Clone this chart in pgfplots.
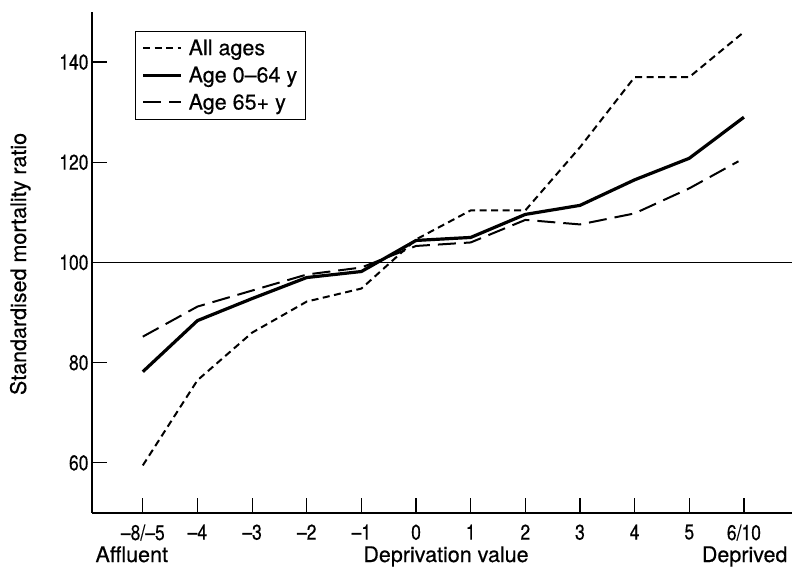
\documentclass[border=0pt]{standalone}
\usepackage{pgfplots}
\pgfplotsset{compat=1.18}
\usepackage{fontspec}
\setmainfont{TeX Gyre Heros}[FakeBold=0.4]
\newcommand{\tl}[1]{\scalebox{1}[1.22]{#1}}
\begin{document}
\begin{tikzpicture}
\useasboundingbox (0,0) rectangle (797pt,567pt);
\begin{axis}[
  at={(92pt,54pt)}, anchor=south west,
  scale only axis, width=700pt, height=501pt,
  xmin=-0.93, xmax=11.88, ymin=50, ymax=150,
  axis lines=left, axis line style={-, line width=1.3pt},
  tick align=inside, major tick length=15pt,
  tick style={line width=1.2pt, black},
  xtick={0,1,2,3,4,5,6,7,8,9,10,11},
  xticklabels={\tl{–8/–5},\tl{–4},\tl{–3},\tl{–2},\tl{–1},\tl{0},\tl{1},\tl{2},\tl{3},\tl{4},\tl{5},\tl{6/10}},
  ytick={60,80,100,120,140},
  yticklabels={\tl{60},\tl{80},\tl{100},\tl{120},\tl{140}},
  ticklabel style={font=\fontsize{17.5}{20}\selectfont},
  xticklabel style={yshift=-8pt},
  /pgf/number format/assume math mode=true,
  legend style={at={(0.0614,0.962)}, anchor=north west, draw=black, line width=1pt,
    font=\fontsize{21.5}{26}\selectfont, inner xsep=6pt, inner ysep=6pt, row sep=6pt},
  legend cell align=left,
  legend image code/.code={\draw[#1] (0pt,0pt) -- (38pt,0pt); \path (42pt,0pt);},
]
\addplot[line width=1.3pt, black, forget plot] coordinates {(-0.93,100) (11.88,100)};
\addplot[black, line width=2pt, dash pattern=on 7pt off 4.5pt, line join=round] coordinates {
(0,59.5) (1,76.5) (2,86) (3,92.2) (4,94.8) (5,104.6) (6,110.4) (7,110.4) (8,123) (9,137) (10,137) (11,146)};
\addlegendentry{All ages}
\addplot[black, line width=3.2pt, line join=round] coordinates {
(0,78.2) (1,88.4) (2,92.8) (3,97.0) (4,98.2) (5,104.4) (6,105) (7,109.6) (8,111.4) (9,116.5) (10,120.8) (11,129)};
\addlegendentry{Age 0–64 y}
\addplot[black, line width=2pt, dash pattern=on 18pt off 8pt, line join=round] coordinates {
(0,85.2) (1,91.2) (2,94.4) (3,97.6) (4,99) (5,103.3) (6,104) (7,108.5) (8,107.6) (9,109.8) (10,114.8) (10.9,120.2)};
\addlegendentry{Age 65+ y}
\end{axis}
\node[anchor=base, rotate=90, font=\fontsize{21.5}{26}\selectfont] at (26pt,303pt) {Standardised mortality ratio};
\node[anchor=base west, font=\fontsize{21.5}{26}\selectfont] at (92pt,5pt) {Affluent};
\node[anchor=base, font=\fontsize{21.5}{26}\selectfont] at (446pt,5pt) {Deprivation value};
\node[anchor=base east, font=\fontsize{21.5}{26}\selectfont] at (791pt,5pt) {Deprived};
\end{tikzpicture}
\end{document}
